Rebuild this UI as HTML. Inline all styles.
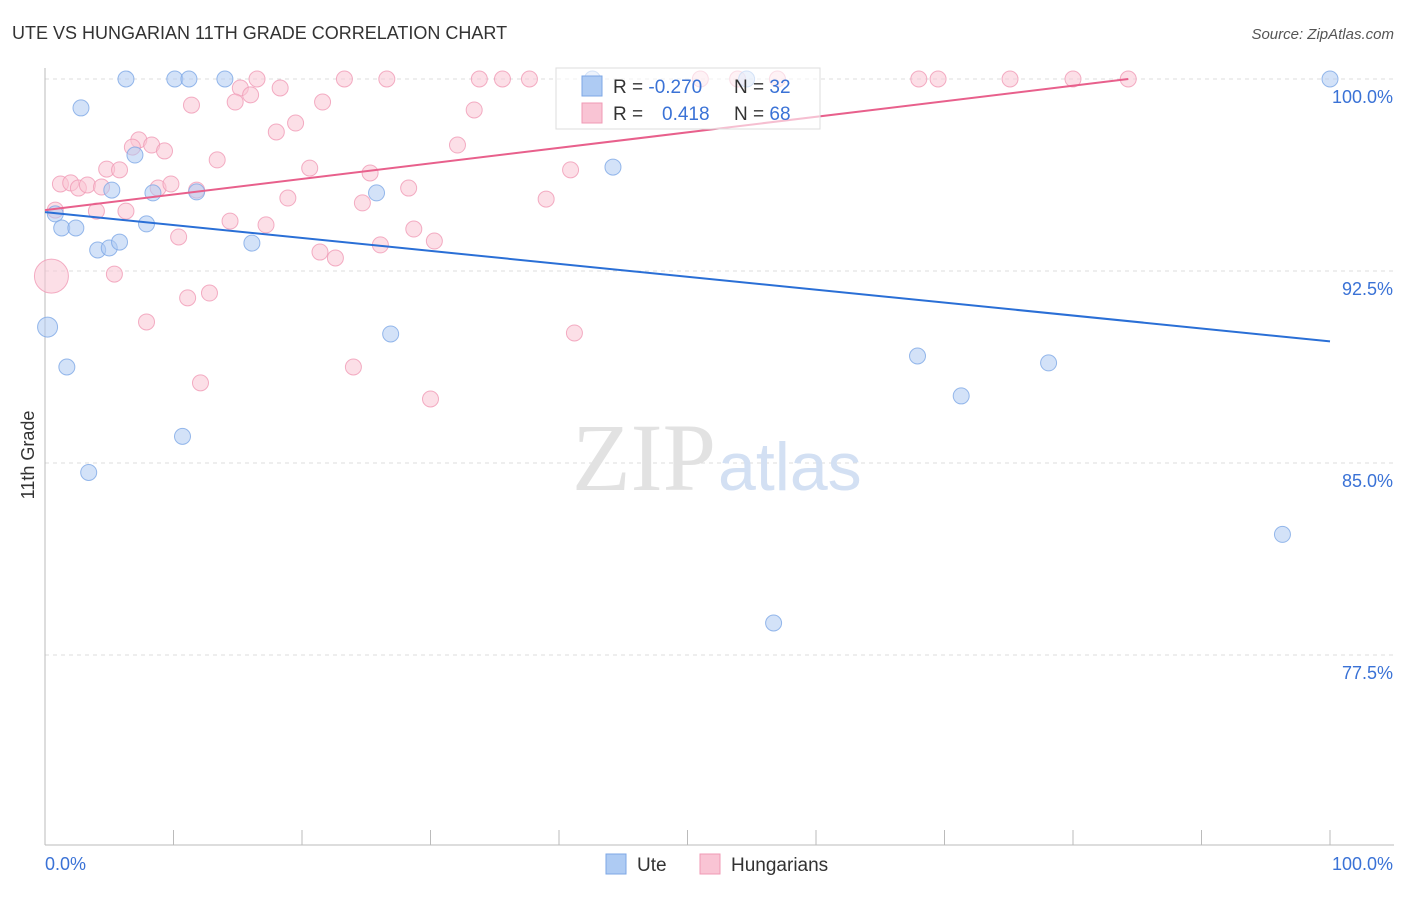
<!DOCTYPE html>
<html><head><meta charset="utf-8"><style>
body{margin:0;background:#fff;font-family:"Liberation Sans",sans-serif}
svg text{font-family:"Liberation Sans",sans-serif}
</style></head><body>
<svg width="1406" height="892">
<text x="12" y="39" font-size="18" fill="#333">UTE VS HUNGARIAN 11TH GRADE CORRELATION CHART</text>
<text x="1394" y="39" font-size="15" fill="#555" font-style="italic" text-anchor="end">Source: ZipAtlas.com</text>
<g id="grid"></g>
<g id="axes"></g>
<text x="716" y="490" font-size="96" fill="#e2e2e2" text-anchor="end" style="font-family:'Liberation Serif',serif">ZIP</text>
<text x="718" y="490" font-size="68" fill="#d3e0f3">atlas</text>
<g id="pts"></g>
<g id="lines"></g>
<text transform="translate(34,455) rotate(-90)" font-size="18" fill="#333" text-anchor="middle">11th Grade</text>
<g>
<rect x="556" y="68" width="264" height="61" fill="#fff" fill-opacity="0.6" stroke="#ddd"/>
<rect x="582" y="76" width="20" height="20" fill="#aecbf3" stroke="#7da7e6"/>
<rect x="582" y="103" width="20" height="20" fill="#f9c4d4" stroke="#f09ab5"/>
<text x="613" y="93" font-size="19" fill="#333">R = <tspan fill="#3a72d6">-0.270</tspan></text>
<text x="734" y="93" font-size="19" fill="#333">N = <tspan fill="#3a72d6">32</tspan></text>
<text x="613" y="120" font-size="19" fill="#333">R = <tspan x="662" fill="#3a72d6">0.418</tspan></text>
<text x="734" y="120" font-size="19" fill="#333">N = <tspan fill="#3a72d6">68</tspan></text>
</g>
<g>
<rect x="606" y="854" width="20" height="20" fill="#aecbf3" stroke="#7da7e6"/>
<text x="637" y="871" font-size="19" fill="#333">Ute</text>
<rect x="700" y="854" width="20" height="20" fill="#f9c4d4" stroke="#f09ab5"/>
<text x="731" y="871" font-size="19" fill="#333">Hungarians</text>
</g>
</svg>
<script>
const yTicks=[100,92.5,85,77.5];
const yTickLabels=["100.0%","92.5%","85.0%","77.5%"];
const xTickLabels=["0.0%","100.0%"];
const uteX=[6.3,10.1,11.2,14.0,2.8,7.0,5.2,8.4,11.8,25.8,44.2,0.8,1.3,2.4,7.9,4.1,5.0,5.8,16.1,0.2,26.9,1.7,67.9,78.1,71.3,10.7,3.4,96.3,56.7,100,54.6,42.6];
const uteY=[100,100,100,100,98.87,97.03,95.66,95.55,95.59,95.55,96.56,94.73,94.18,94.18,94.34,93.32,93.40,93.63,93.59,90.31,90.04,88.75,89.18,88.91,87.62,86.04,84.63,82.21,78.75,100,100,100];
const hunX=[16.5,23.3,26.6,33.8,35.6,37.7,53.9,68.0,69.5,75.1,80.0,84.3,11.4,15.2,16.0,14.8,18.3,21.6,33.4,7.3,6.8,8.3,9.3,13.4,18.0,19.5,32.1,4.8,5.8,20.6,25.3,40.9,1.2,2.0,2.6,3.3,4.4,8.8,9.8,11.8,18.9,28.3,24.7,39.0,4.0,6.3,0.8,14.4,17.2,28.7,10.4,26.1,30.3,21.4,22.6,5.4,11.1,12.8,7.9,41.2,24.0,12.1,30.0,0.5,51.0,57.0];
const hunY=[100,100,100,100,100,100,100,100,100,100,100,100,98.98,99.65,99.38,99.10,99.65,99.10,98.79,97.62,97.34,97.42,97.19,96.84,97.93,98.28,97.42,96.48,96.45,96.52,96.33,96.45,95.90,95.94,95.74,95.86,95.78,95.74,95.90,95.66,95.35,95.74,95.16,95.31,94.84,94.84,94.88,94.45,94.30,94.14,93.83,93.52,93.67,93.24,93.01,92.38,91.45,91.64,90.51,90.08,88.75,88.13,87.50,92.3,100,100];
const uteLine=[94.8,89.75];
const hunLine=[94.88,100,84.3];
const NS="http://www.w3.org/2000/svg";
const X0=45,X1=1330,Y100=79,PXPER=25.6;
const xs=v=>X0+(X1-X0)*v/100;
const ys=v=>Y100+(100-v)*PXPER;
function mk(tag,attrs,parent){const e=document.createElementNS(NS,tag);for(const k in attrs)e.setAttribute(k,attrs[k]);parent.appendChild(e);return e;}
const grid=document.getElementById('grid'),axes=document.getElementById('axes');
yTicks.forEach((t,i)=>{
 const l=mk('line',{x1:X0,x2:1394,y1:ys(t),y2:ys(t),stroke:'#ddd','stroke-dasharray':'4,4'},grid);
 
 
 const tx=mk('text',{x:1393,y:ys(t)+24,'font-size':18,fill:'#3a72d6','text-anchor':'end'},axes);
 tx.textContent=yTickLabels[i];
 
 
});
mk('line',{x1:X0,x2:X0,y1:68,y2:845,stroke:'#bbb'},axes);
mk('line',{x1:X0,x2:1394,y1:845,y2:845,stroke:'#bbb'},axes);
for(let i=0;i<=10;i++){const t=mk('line',{x1:xs(i*10),x2:xs(i*10),y1:830,y2:845,stroke:'#bbb'},axes);}
[[45,'start'],[1393,'end']].forEach((p,i)=>{const t=mk('text',{x:p[0],y:870,'font-size':18,fill:'#3a72d6','text-anchor':p[1]},axes);t.textContent=xTickLabels[i];});
const pts=document.getElementById('pts');
hunX.forEach((x,i)=>{const c=mk('circle',{cx:xs(x),cy:ys(hunY[i]),r:i==63?17:8,fill:'#f9c4d4','fill-opacity':0.55,stroke:'#f09ab5','stroke-opacity':0.8},pts);
 
 });
uteX.forEach((x,i)=>{const c=mk('circle',{cx:xs(x),cy:ys(uteY[i]),r:i==19?10:8,fill:'#aecbf3','fill-opacity':0.55,stroke:'#7da7e6','stroke-opacity':0.8},pts);
 
 });
const lines=document.getElementById('lines');
const bl=mk('line',{x1:xs(0),y1:ys(uteLine[0]),x2:xs(100),y2:ys(uteLine[1]),stroke:'#2a6fd6','stroke-width':2},lines);


const pl=mk('line',{x1:xs(0),y1:ys(hunLine[0]),x2:xs(hunLine[2]),y2:ys(hunLine[1]),stroke:'#e8608c','stroke-width':2},lines);


</script>
</body></html>
